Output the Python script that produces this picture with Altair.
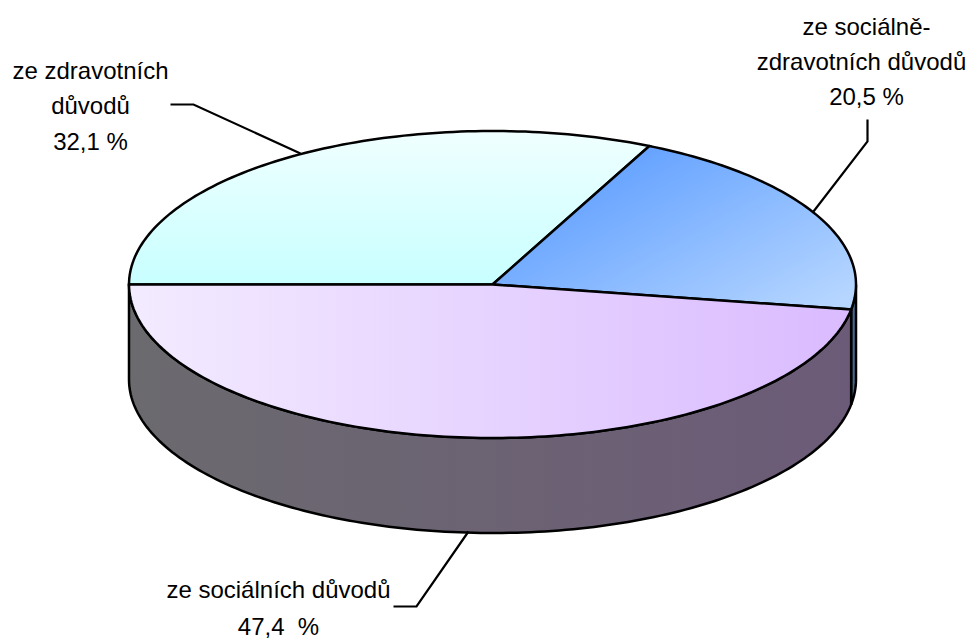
import math
import altair as alt

# shares of the pie, clockwise from the left edge (9 o'clock)
categories = ["ze zdravotních důvodů", "ze sociálně-zdravotních důvodů", "ze sociálních důvodů"]
shares = [32.1, 20.5, 47.4]

# label lines: text, offset from pie centre in px (x right, y up)
label_text = ["ze zdravotních", "důvodů", "32,1 %",
              "ze sociálně-", "zdravotních důvodů", "20,5 %",
              "ze sociálních důvodů", "47,4\u00a0 %"]
label_x = [-402, -402, -402, 374, 369, 374, -214, -214]
label_y = [213, 178, 142, 257, 222, 187, -306, -343]

# leader lines, offset from pie centre in px
leader_left = [[-322, 180], [-299, 180], [-192, 131]]
leader_right = [[375, 165], [375, 143], [321, 73]]
leader_bottom = [[-99, -322], [-76, -322], [-24, -247]]

RX, RY, DEPTH = 363.5, 153.5, 95
CX, CY = 492.5, 284.5
N = 160


def pt(deg, drop=0):
    a = math.radians(deg)
    return [RX * math.cos(a), RY * math.sin(a) - drop]


def arc(a0, a1, drop=0):
    n = max(2, int(abs(a1 - a0) / 360 * N * 2))
    return [pt(a0 + (a1 - a0) * i / n, drop) for i in range(n + 1)]


def feature(kind, coords):
    return {"type": "Feature", "properties": {}, "geometry": {"type": kind, "coordinates": coords}}


def wedge(a0, a1):
    return feature("Polygon", [[[0, 0]] + arc(a0, a1) + [[0, 0]]])


def wall(a0, a1):
    ring = arc(a0, a1) + arc(a1, a0, DEPTH)
    return feature("Polygon", [ring + [ring[0]]])


def grad(stops, x1, y1, x2, y2):
    return alt.Gradient(
        gradient="linear",
        stops=[alt.GradientStop(offset=o, color=c) for o, c in stops],
        x1=x1, y1=y1, x2=x2, y2=y2,
    )


# clockwise angles: start at 180 deg and walk down
a_cyan_end = 180 - shares[0] * 3.6
a_blue_end = a_cyan_end - shares[1] * 3.6
a_purple_end = a_blue_end - shares[2] * 3.6


def shape(f, fill):
    return alt.Chart(alt.Data(values=[f])).mark_geoshape(fill=fill, stroke="black", strokeWidth=2.5)


def line(points):
    return alt.Chart(alt.Data(values=[feature("LineString", points)])).mark_geoshape(
        filled=False, stroke="black", strokeWidth=2.2
    )


layers = [
    shape(wall(0, a_blue_end), "#47688c"),
    shape(wall(a_blue_end, -180), grad([(0, "#6b6a6e"), (1, "#6c5b78")], 0, 0, 1, 0)),
    shape(wedge(180, a_cyan_end), grad([(0, "#f0ffff"), (1, "#c8ffff")], 0, 0, 0, 1)),
    shape(wedge(a_cyan_end, a_blue_end), grad([(0, "#66a3ff"), (1, "#b6d6ff")], 0.43, 0, 1.21, 0.64)),
    shape(wedge(a_blue_end, a_purple_end), grad([(0, "#f3ebff"), (1, "#dabbff")], 0, 0, 1, 0)),
    line(leader_left),
    line(leader_right),
    line(leader_bottom),
    alt.Chart(alt.Data(values=[{"t": t, "x": x, "y": y} for t, x, y in zip(label_text, label_x, label_y)]))
    .mark_text(font="Liberation Sans", fontSize=24, color="black", align="center", baseline="middle")
    .encode(longitude="x:Q", latitude="y:Q", text="t:N"),
]

chart = (
    alt.layer(*layers, projection=alt.Projection(type="identity", reflectY=True, scale=1, translate=[CX - 8, CY - 8]))
    .properties(width=960, height=631, padding=0)
    .configure_view(stroke=None)
)
chart.save("out.html", embed_options={"renderer": "svg", "actions": False})
